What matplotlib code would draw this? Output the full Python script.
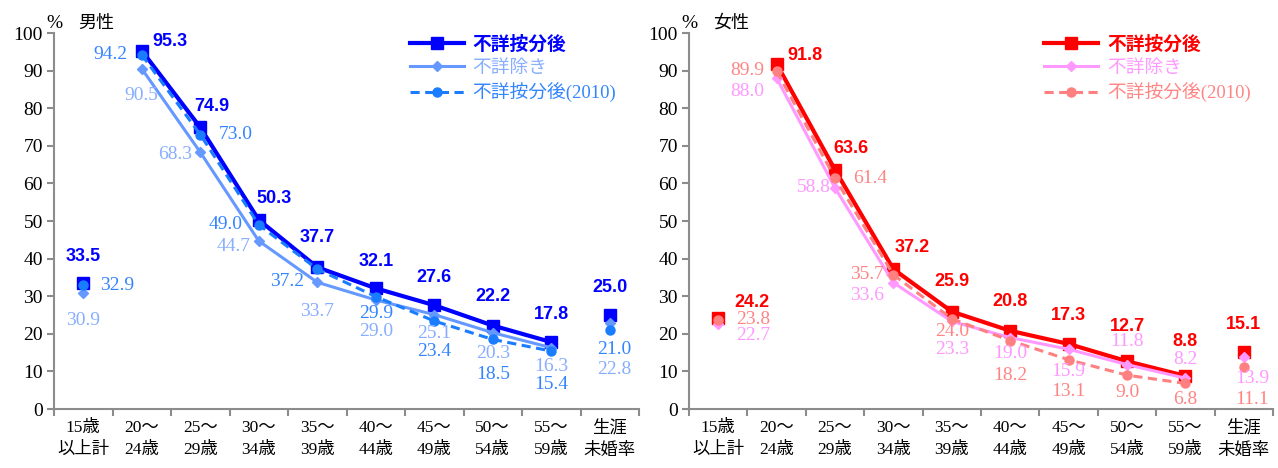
import numpy as np
import matplotlib.pyplot as plt

# 数字は明朝風、和文はNoto Sans CJK JPで代用
plt.rcParams['font.family'] = ['Liberation Serif', 'Noto Sans CJK JP']
plt.rcParams['axes.unicode_minus'] = False

categories = ['15歳\n以上計', '20〜\n24歳', '25〜\n29歳', '30〜\n34歳', '35〜\n39歳',
              '40〜\n44歳', '45〜\n49歳', '50〜\n54歳', '55〜\n59歳', '生涯\n未婚率']
series_names = ['不詳按分後', '不詳除き', '不詳按分後(2010)']

# 男性
male_anbun = [33.5, 95.3, 74.9, 50.3, 37.7, 32.1, 27.6, 22.2, 17.8, 25.0]
male_jogai = [30.9, 90.5, 68.3, 44.7, 33.7, 29.0, 25.1, 20.3, 16.3, 22.8]
male_2010 = [32.9, 94.2, 73.0, 49.0, 37.2, 29.9, 23.4, 18.5, 15.4, 21.0]

# 女性
female_anbun = [24.2, 91.8, 63.6, 37.2, 25.9, 20.8, 17.3, 12.7, 8.8, 15.1]
female_jogai = [22.7, 88.0, 58.8, 33.6, 23.3, 19.0, 15.9, 11.8, 8.2, 13.9]
female_2010 = [23.8, 89.9, 61.4, 35.7, 24.0, 18.2, 13.1, 9.0, 6.8, 11.1]

# ラベル位置 (dx, dy[px], ha)
C = 'center'
male_off = [
    [(0, 27, C), (11, 9, 'left'), (12, 21, C), (15, 21, C), (0, 30, C),
     (0, 27, C), (0, 28, C), (0, 29, C), (0, 28, C), (0, 28, C)],
    [(0, -28, C), (0, -27, C), (-8, -2, 'right'), (-8, -6, 'right'), (0, -29, C),
     (0, -32, C), (0, -19, C), (0, -21, C), (0, -19, C), (4, -46, C)],
    [(17, 0, 'left'), (-14, 0, 'right'), (18, 0, 'left'), (-16, 0, 'right'), (-13, -12, 'right'),
     (0, -17, C), (0, -30, C), (0, -35, C), (0, -33, C), (4, -19, C)],
]
female_off = [
    [(16, 16, 'left'), (11, 8, 'left'), (16, 21, C), (19, 22, C), (0, 30, C),
     (0, 29, C), (0, 28, C), (0, 35, C), (0, 34, C), (0, 28, C)],
    [(18, -12, 'left'), (-12, -13, 'right'), (-4, 0, 'right'), (-9, -13, 'right'), (0, -28, C),
     (0, -16, C), (0, -22, C), (0, 23, C), (0, 19, C), (8, -22, C)],
    [(18, 0, 'left'), (-12, 0, 'right'), (18, 0, 'left'), (-9, 0, 'right'), (0, -13, C),
     (0, -35, C), (0, -32, C), (0, -17, C), (0, -16, C), (8, -32, C)],
]

male_colors = ['#0000FF', '#6699FF', '#1A7DFF']
male_text = ['#0000FF', '#88AEFF', '#3385FF']
female_colors = ['#FF0000', '#FF99FF', '#FF8080']
female_text = ['#FF0000', '#FF99FF', '#FF8585']

styles = [
    dict(marker='s', markersize=8.5, linewidth=3.0, linestyle='-'),
    dict(marker='D', markersize=5.5, linewidth=2.2, linestyle='-'),
    dict(marker='o', markersize=6.5, linewidth=2.2, linestyle=(0, (3, 1.8))),
]

axis_gray = '#8C8C8C'
x = np.arange(len(categories))


def draw_panel(ax, data, colors, tcolors, offsets, title):
    handles = []
    for i, vals in enumerate(data):
        vals = np.array(vals)
        st = styles[i]
        # 20〜59歳は折れ線、15歳以上計と生涯未婚率は点のみ
        h, = ax.plot(x[1:9], vals[1:9], color=colors[i], marker=st['marker'],
                     markersize=st['markersize'], linewidth=st['linewidth'],
                     linestyle=st['linestyle'], zorder=3 + i)
        ax.plot(x[[0, 9]], vals[[0, 9]], color=colors[i], marker=st['marker'],
                markersize=st['markersize'], linestyle='none', zorder=3 + i)
        handles.append(h)
        for j, v in enumerate(vals):
            dx, dy, ha = offsets[i][j]
            if i == 0:
                kw = dict(fontsize=13, fontweight='bold',
                          family=['Liberation Sans', 'Noto Sans CJK JP'])
            else:
                kw = dict(fontsize=14)
            ax.annotate(f'{v:.1f}', xy=(x[j], v), xytext=(dx, dy),
                        textcoords='offset pixels', ha=ha, va='center',
                        color=tcolors[i], annotation_clip=False, zorder=10, **kw)

    ax.set_xlim(-0.5, 9.5)
    ax.set_ylim(0, 100)
    ax.set_yticks(np.arange(0, 101, 10))
    ax.set_xticks(np.arange(-0.5, 10, 1))
    ax.set_xticklabels([])
    ax.set_xticks(x, minor=True)
    ax.set_xticklabels(categories, minor=True, fontsize=12.5, linespacing=1.5)
    ax.tick_params(axis='x', which='minor', length=0, pad=8)
    ax.tick_params(axis='x', which='major', length=5, width=1.5, color=axis_gray)
    ax.tick_params(axis='y', length=5, width=1.5, color=axis_gray, labelsize=14, pad=3)
    for s in ['top', 'right']:
        ax.spines[s].set_visible(False)
    for s in ['left', 'bottom']:
        ax.spines[s].set_color(axis_gray)
        ax.spines[s].set_linewidth(1.5)

    ax.annotate('%', xy=(0, 1), xycoords='axes fraction', xytext=(0, 10),
                textcoords='offset pixels', ha='center', va='center', fontsize=14)
    ax.annotate(title, xy=(0, 1), xycoords='axes fraction', xytext=(24, 10),
                textcoords='offset pixels', ha='left', va='center', fontsize=13,
                family=['Noto Sans CJK JP'])

    leg = ax.legend(handles, series_names, loc='upper left', bbox_to_anchor=(0.608, 0.995),
                    frameon=False, fontsize=13.5, handlelength=2.9, handletextpad=0.45,
                    labelspacing=0.32, borderpad=0, borderaxespad=0)
    for k, t in enumerate(leg.get_texts()):
        t.set_color(tcolors[k] if k else colors[0])
        if k == 0:
            t.set_fontweight('bold')
            t.set_family(['Noto Sans CJK JP'])


fig = plt.figure(figsize=(12.78, 4.68), dpi=100)
ax1 = fig.add_axes([54 / 1278, 1 - 409 / 468, 585 / 1278, 376 / 468])
ax2 = fig.add_axes([689 / 1278, 1 - 409 / 468, 584 / 1278, 376 / 468])

draw_panel(ax1, [male_anbun, male_jogai, male_2010], male_colors, male_text, male_off, '男性')
draw_panel(ax2, [female_anbun, female_jogai, female_2010], female_colors, female_text, female_off, '女性')

fig.savefig('out.png', dpi=100)
